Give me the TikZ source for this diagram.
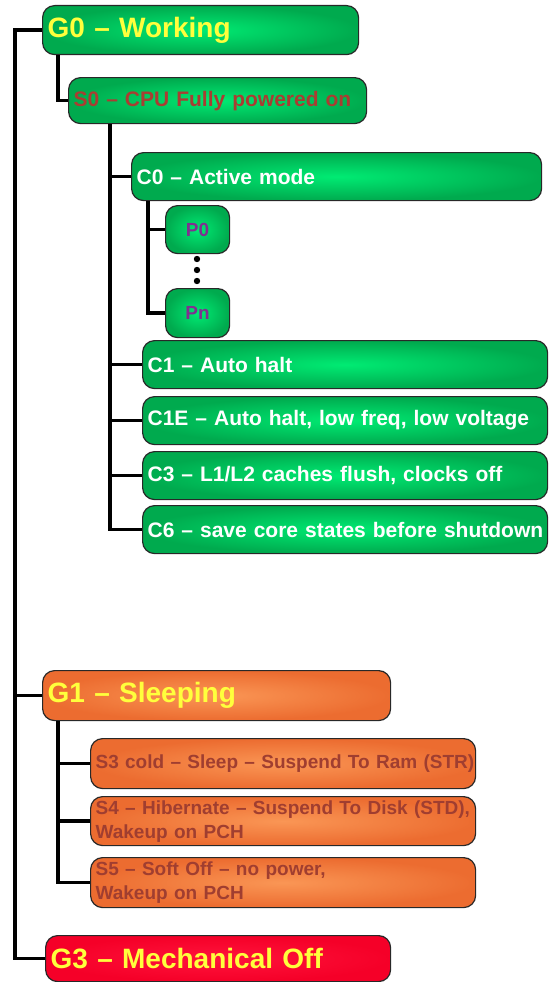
\documentclass[tikz,border=0pt]{standalone}
\usepackage{fontspec}
\setmainfont{Liberation Sans}
\definecolor{gin}{RGB}{0,235,115}
\definecolor{gout}{RGB}{0,170,78}
\definecolor{oin}{RGB}{250,150,85}
\definecolor{oout}{RGB}{236,108,48}
\definecolor{rin}{RGB}{255,20,60}
\definecolor{rout}{RGB}{245,0,40}
\definecolor{boxline}{RGB}{40,40,40}
\definecolor{gy}{RGB}{255,255,60}
\definecolor{sred}{RGB}{168,62,50}
\definecolor{ored}{RGB}{160,62,48}
\definecolor{ppl}{RGB}{128,48,144}
\begin{document}
\begin{tikzpicture}[x=1pt,y=-1pt,
  box/.style={draw=boxline, line width=1.2pt, rounded corners=12pt, anchor=north west,
              inner xsep=5pt, inner ysep=0pt, align=left},
  gbox/.style={box, inner color=gin, outer color=gout},
  obox/.style={box, inner color=oin, outer color=oout},
  rbox/.style={box, inner color=rin, outer color=rout},
  gtxt/.style={font=\bfseries\fontsize{28}{32}\selectfont, text=gy},
  ctxt/.style={font=\bfseries\fontsize{21}{25}\selectfont, text=white},
  s0txt/.style={font=\bfseries\fontsize{21}{25}\selectfont, text=sred},
  stxt/.style={font=\bfseries\fontsize{19}{24}\selectfont, text=ored},
  ptxt/.style={font=\bfseries\fontsize{19}{24}\selectfont, text=ppl, align=center},
  conn/.style={draw=black, line width=3.4pt}
]
\useasboundingbox (0,0) rectangle (549,982);

% G0 branch
\node[gbox, gtxt, text width=306pt, minimum height=49pt] (G0) at (42,5) {G0 – Working};
\node[gbox, s0txt, text width=288pt, minimum height=46pt] (S0) at (68,77) {\mbox{S0 – CPU Fully powered on}};
\node[gbox, ctxt, text width=400pt, minimum height=48pt] (C0) at (131,152) {\mbox{C0 – Active mode}};
\node[gbox, ptxt, text width=54pt, minimum height=48pt] (P0) at (165,205) {P0};
\node[gbox, ptxt, text width=54pt, minimum height=49pt] (Pn) at (165,288) {Pn};
\node[gbox, ctxt, text width=395pt, minimum height=48pt] (C1) at (142,340) {\mbox{C1 – Auto halt}};
\node[gbox, ctxt, text width=395pt, minimum height=48pt] (C1E) at (142,396) {\mbox{C1E – Auto halt, low freq, low voltage}};
\node[gbox, ctxt, text width=395pt, minimum height=48pt] (C3) at (142,451) {\mbox{C3 – L1/L2 caches flush, clocks off}};
\node[gbox, ctxt, text width=395pt, minimum height=48pt] (C6) at (142,505) {\mbox{C6 – save core states before shutdown}};

% G1 branch
\node[obox, gtxt, text width=338pt, minimum height=50pt] (G1) at (42,670) {G1 – Sleeping};
\node[obox, stxt, text width=375pt, minimum height=50pt] (S3) at (90,738) {\mbox{S3 cold – Sleep – Suspend To Ram (STR)}};
\node[obox, stxt, text width=375pt, minimum height=49pt] (S4) at (90,796) {S4 – Hibernate – Suspend To Disk (STD),\\Wakeup on PCH};
\node[obox, stxt, text width=375pt, minimum height=50pt] (S5) at (90,857) {S5 – Soft Off – no power,\\Wakeup on PCH};

% G3
\node[rbox, gtxt, text width=335pt, minimum height=46pt] (G3) at (45,935) {G3 – Mechanical Off};

% connectors
\coordinate (t0) at (15,0 |- G0.west);
\draw[conn] (G0.west) -- (t0) |- (G3.west);
\draw[conn] (t0 |- G1.west) -- (G1.west);

\draw[conn] ([xshift=16pt]G0.south west) |- (S0.west);

\coordinate (cv) at ([xshift=42pt]S0.south west);
\draw[conn] (cv) |- (C6.west);
\draw[conn] (cv |- C0.west) -- (C0.west);
\draw[conn] (cv |- C1.west) -- (C1.west);
\draw[conn] (cv |- C1E.west) -- (C1E.west);
\draw[conn] (cv |- C3.west) -- (C3.west);

\coordinate (pv) at ([xshift=17pt]C0.south west);
\draw[conn] (pv) |- (Pn.west);
\draw[conn] (pv |- P0.west) -- (P0.west);

\foreach \yy in {259,270,281} \fill (197,\yy) circle (3.2pt);

\coordinate (sv) at ([xshift=16pt]G1.south west);
\draw[conn] (sv) |- (S5.west);
\draw[conn] (sv |- S3.west) -- (S3.west);
\draw[conn] (sv |- S4.west) -- (S4.west);
\end{tikzpicture}
\end{document}
